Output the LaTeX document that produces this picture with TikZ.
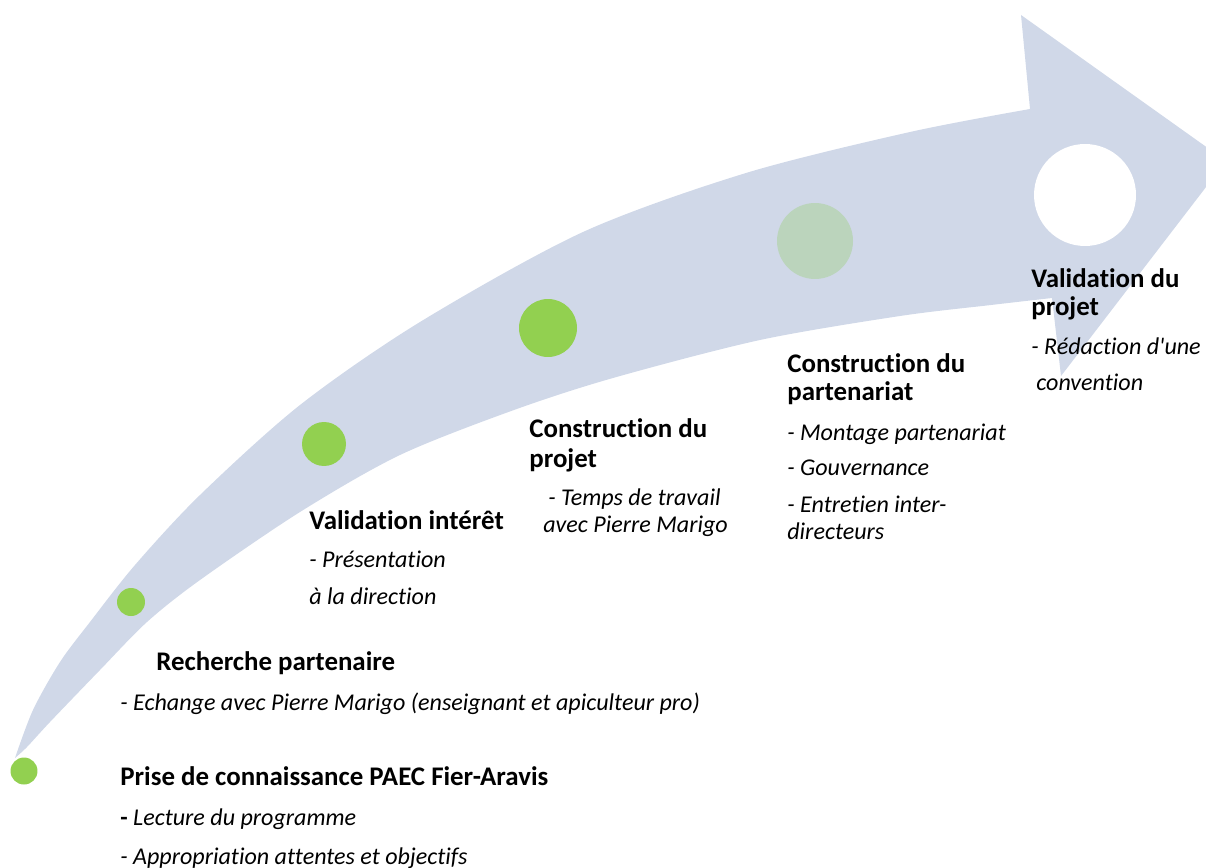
\documentclass[tikz,border=0pt]{standalone}
\usepackage{fontspec}
\setmainfont{Carlito}[Ligatures={NoCommon,TeXOff}]
\definecolor{arrowblue}{HTML}{D0D8E8}
\definecolor{stepgreen}{HTML}{92D050}
\definecolor{fadegreen}{HTML}{BBD4BC}
\tikzset{
  dot/.style={circle, inner sep=0pt, draw=none},
  headtxt/.style={anchor=base west, inner sep=0pt, font=\fontsize{15.3}{18}\selectfont\bfseries},
  itemtxt/.style={anchor=base west, inner sep=0pt, font=\fontsize{13.7}{16}\selectfont\itshape}
}
\begin{document}
\begin{tikzpicture}[x=0.02cm,y=-0.02cm]
\useasboundingbox (0,0) rectangle (1206,868);
\clip (0,0) rectangle (1206,868);
% big curved arrow
\fill[arrowblue] plot[smooth,tension=0.5] coordinates {(15,758) (33,710) (60,662) (90,622) (135,565) (200,495) (300,405) (420,322) (583,232) (746,173) (910,132) (1030,109)}
  -- (1021,15) -- (1226,161) -- (1061,376)
  -- plot[smooth,tension=0.5] coordinates {(1052,298) (991,305) (900,316) (760,340) (613,378) (514,410) (400,455) (300,512) (200,580) (147,622) (100,670) (50,722) (27,747) (15,758)} -- cycle;
% step dots
\node[dot, fill=stepgreen, minimum size=0.54cm] (d1) at (24,771) {};
\node[dot, fill=stepgreen, minimum size=0.56cm] (d2) at (131,602) {};
\node[dot, fill=stepgreen, minimum size=0.88cm] (d3) at (324,444) {};
\node[dot, fill=stepgreen, minimum size=1.16cm] (d4) at (548,328) {};
\node[dot, fill=fadegreen, minimum size=1.52cm] (d5) at (815,241) {};
\node[dot, fill=white, minimum size=2.04cm] (d6) at (1085,195) {};
% step 1
\node[headtxt] (h1) at (120,785) {Prise de connaissance PAEC Fier-Aravis};
\node[itemtxt] (i1a) at (120,825) {{\upshape\bfseries -} Lecture du programme};
\node[itemtxt] (i1b) at (120,864) {- Appropriation attentes et objectifs};
% step 2
\node[headtxt] (h2) at (156,670) {Recherche partenaire};
\node[itemtxt] (i2a) at (120,710) {- Echange avec Pierre Marigo (enseignant et apiculteur pro)};
% step 3
\node[headtxt] (h3) at (309,529) {Validation intérêt};
\node[itemtxt] (i3a) at (309,567) {- Présentation};
\node[itemtxt] (i3b) at (309,604) {à la direction};
% step 4
\node[headtxt] (h4a) at (529,437) {Construction du};
\node[headtxt] (h4b) at (529,467) {projet};
\node[itemtxt] (i4a) at (548,505) {- Temps de travail};
\node[itemtxt] (i4b) at (543,532) {avec Pierre Marigo};
% step 5
\node[headtxt] (h5a) at (787,372) {Construction du};
\node[headtxt] (h5b) at (787,400) {partenariat};
\node[itemtxt] (i5a) at (787,440) {- Montage partenariat};
\node[itemtxt] (i5b) at (787,475) {- Gouvernance};
\node[itemtxt] (i5c) at (787,512) {- Entretien inter-};
\node[itemtxt] (i5d) at (787,539) {directeurs};
% step 6
\node[headtxt] (h6a) at (1031,287) {Validation du};
\node[headtxt] (h6b) at (1031,315) {projet};
\node[itemtxt] (i6a) at (1031,354) {- Rédaction d'une};
\node[itemtxt] (i6b) at (1036,390) {convention};
\end{tikzpicture}
\end{document}
